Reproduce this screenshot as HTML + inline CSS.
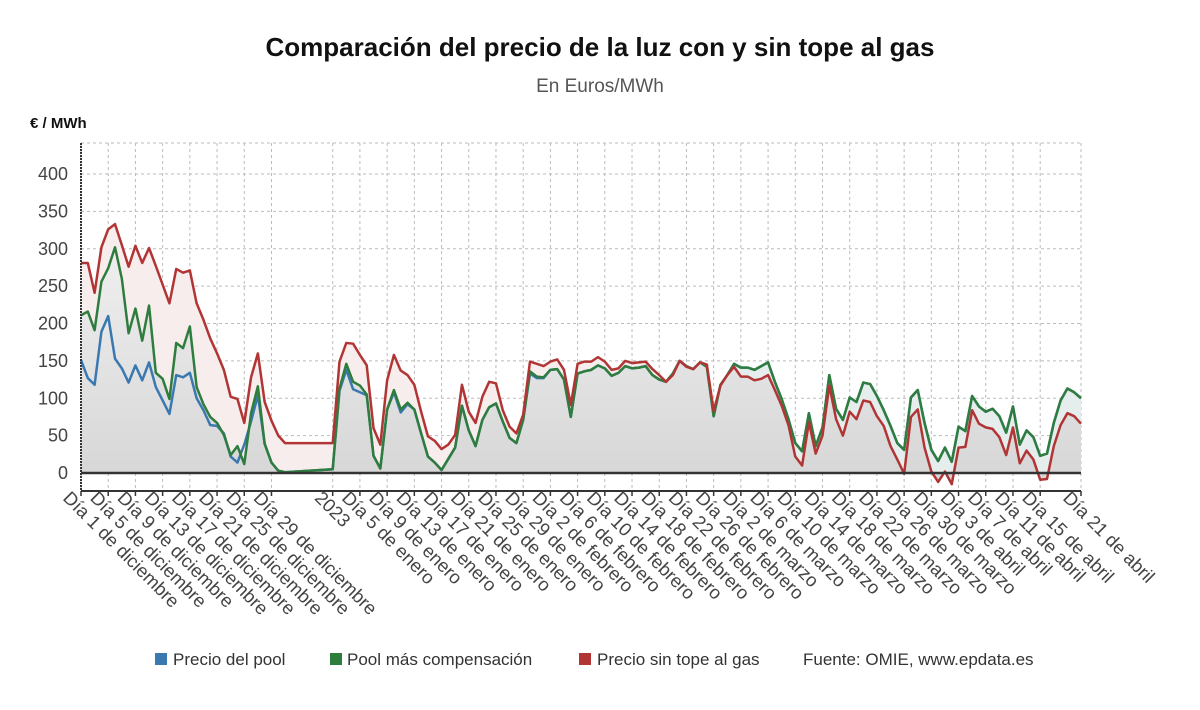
<!DOCTYPE html>
<html><head><meta charset="utf-8">
<style>
html,body{margin:0;padding:0;background:#fff;}
body{width:1200px;height:705px;overflow:hidden;font-family:"Liberation Sans","DejaVu Sans",sans-serif;}
</style></head>
<body>
<svg id="chart" width="1200" height="705" viewBox="0 0 1200 705" xmlns="http://www.w3.org/2000/svg">
<defs>
<linearGradient id="greyGrad" x1="0" y1="0" x2="0" y2="1">
<stop offset="0" stop-color="#efefef"/><stop offset="1" stop-color="#d6d6d6"/>
</linearGradient>
</defs>
<text x="600" y="56" text-anchor="middle" font-size="26" font-weight="bold" fill="#111">Comparación del precio de la luz con y sin tope al gas</text>
<text x="600" y="92" text-anchor="middle" font-size="19" fill="#555">En Euros/MWh</text>
<text x="30" y="128" font-size="15" font-weight="bold" fill="#111">€ / MWh</text>
<g id="grid"></g>
<g id="areas"></g>
<g id="lines"></g>
<g id="axes"></g>
<g id="legend">
<rect x="155" y="653" width="12" height="12" fill="#3a78b0"/>
<text x="173" y="665" font-size="17" fill="#333">Precio del pool</text>
<rect x="330" y="653" width="12" height="12" fill="#2e7d3e"/>
<text x="347" y="665" font-size="17" fill="#333">Pool más compensación</text>
<rect x="579" y="653" width="12" height="12" fill="#b23535"/>
<text x="597" y="665" font-size="17" fill="#333">Precio sin tope al gas</text>
<text x="803" y="665" font-size="17" fill="#333">Fuente: OMIE, www.epdata.es</text>
</g>
</svg>
<script>
// Index positions: Dec 1..31 -> 0..30, gap 31..36, Jan 1 -> 37 ... Apr 21 -> 147
const tickIdx = [0,4,8,12,16,20,24,28,37,41,45,49,53,57,61,65,69,73,77,81,85,89,93,97,101,105,109,113,117,121,125,129,133,137,141,147];
const tickLabels = ["Día 1 de diciembre","Día 5 de diciembre","Día 9 de diciembre","Día 13 de diciembre","Día 17 de diciembre","Día 21 de diciembre","Día 25 de diciembre","Día 29 de diciembre","2023","Día 5 de enero","Día 9 de enero","Día 13 de enero","Día 17 de enero","Día 21 de enero","Día 25 de enero","Día 29 de enero","Día 2 de febrero","Día 6 de febrero","Día 10 de febrero","Día 14 de febrero","Día 18 de febrero","Día 22 de febrero","Día 26 de febrero","Día 2 de marzo","Día 6 de marzo","Día 10 de marzo","Día 14 de marzo","Día 18 de marzo","Día 22 de marzo","Día 26 de marzo","Día 30 de marzo","Día 3 de abril","Día 7 de abril","Día 11 de abril","Día 15 de abril","Día 21 de abril"];
const yTicks = [0,50,100,150,200,250,300,350,400];
const N = null;
const redVals = [281,281,241,302,326,333,305,276,304,281,301,277,252,227,273,268,271,227,205,180,160,138,102,99,67,128,160,95,70,50,40,
 N,N,N,N,N,N,
 40,149,174,173,158,144,60,38,124,158,137,131,118,82,49,43,32,38,51,118,82,67,102,122,120,84,62,53,78,149,146,143,149,152,138,91,146,149,149,155,149,138,140,150,147,148,149,139,131,122,131,150,142,139,148,145,83,117,131,142,129,129,124,126,131,111,90,64,22,10,68,26,50,117,72,50,82,72,97,95,76,63,36,18,-1,75,85,34,2,-12,2,-15,34,35,84,66,61,59,48,24,61,13,30,18,-9,-8,36,64,80,76,66];
const greenVals = [211,216,191,256,274,302,260,187,220,177,224,134,126,99,174,167,196,115,92,75,67,51,24,36,12,80,116,39,14,3,1,
 N,N,N,N,N,N,
 5,113,146,122,117,105,23,6,85,111,85,94,85,53,22,14,4,19,34,90,57,36,71,88,93,69,47,40,71,136,129,128,138,139,125,75,133,136,138,144,140,130,134,143,140,141,143,131,125,122,133,150,143,139,148,142,76,118,131,146,141,141,138,143,148,122,99,72,40,29,80,36,61,131,86,71,101,95,121,119,103,84,63,40,31,101,111,67,31,16,34,15,62,56,103,89,82,86,76,54,89,38,57,48,23,26,67,97,113,108,100];
const blueVals = [151,127,118,189,210,153,140,121,144,124,148,115,97,79,131,128,134,100,84,64,63,53,22,14,38,69,104,39,14,3,1,
 N,N,N,N,N,N,
 5,110,138,112,108,104,23,6,85,108,81,92,85,53,22,14,4,19,34,90,57,36,71,88,93,69,47,40,71,133,127,127,138,139,125,75,133,136,138,144,140,130,134,143,140,141,143,131,125,122,133,150,143,139,148,142,76,118,131,146,141,141,138,143,148,122,99,72,40,29,80,36,61,131,86,71,101,95,121,119,103,84,63,40,31,101,111,67,31,16,34,15,62,56,103,89,82,86,76,54,89,38,57,48,23,26,67,97,113,108,100];

const X0=81, X1=1081, Y0=473, PX_PER=0.7475, LAST=147, TOP=143, BOT=491;
const xs = i => X0 + (X1-X0)*i/LAST;
const ys = v => Y0 - v*PX_PER;
const NS="http://www.w3.org/2000/svg";
function mk(tag, attrs, parent){const e=document.createElementNS(NS,tag);for(const k in attrs)e.setAttribute(k,attrs[k]);parent.appendChild(e);return e;}
const grid=document.getElementById('grid'), areas=document.getElementById('areas'), lines=document.getElementById('lines'), axes=document.getElementById('axes');

yTicks.forEach(v=>{
  const l=mk('line',{x1:X0,x2:X1,y1:ys(v),y2:ys(v),stroke:'#bbb','stroke-dasharray':'3,3'},grid);
  
  
  const t=mk('text',{x:68,y:ys(v)+6,'text-anchor':'end','font-size':18,fill:'#444'},axes);
  t.textContent=v;
  
  
});
{const l=mk('line',{x1:X0,x2:X1,y1:TOP,y2:TOP,stroke:'#bbb','stroke-dasharray':'3,3'},grid);

}
tickIdx.forEach((ix,k)=>{
  const x=xs(ix);
  const l=mk('line',{x1:x,x2:x,y1:TOP,y2:BOT,stroke:'#bbb','stroke-dasharray':'3,3'},grid);
  
  
  const tk=mk('line',{x1:x,x2:x,y1:BOT,y2:BOT+5,stroke:'#333','stroke-width':1.5},axes);
  
  
  const t=mk('text',{transform:`translate(${x-19},${BOT+8}) rotate(45)`,'font-size':18.5,fill:'#444'},axes);
  t.textContent=tickLabels[k];
  
  
});
{const l=mk('line',{x1:X1,x2:X1,y1:TOP,y2:BOT,stroke:'#bbb','stroke-dasharray':'3,3'},grid);

}

function pts(arr){const p=[];arr.forEach((v,i)=>{if(v!==null)p.push([xs(i),ys(v)]);});return p;}
function areaPath(arr){const p=pts(arr);let d='M'+p[0][0]+','+Y0;p.forEach(q=>d+=' L'+q[0]+','+q[1]);d+=' L'+p[p.length-1][0]+','+Y0+' Z';return d;}
function linePath(arr){const p=pts(arr);return 'M'+p.map(q=>q[0]+','+q[1]).join(' L');}
const minGR=redVals.map((v,i)=>v===null?null:Math.min(v,greenVals[i]));

const a1=mk('path',{d:areaPath(redVals),fill:'#f8eded'},areas);


const a2=mk('path',{d:areaPath(greenVals),fill:'#e5eeed'},areas);


const a4=mk('path',{d:areaPath(minGR),fill:'url(#greyGrad)'},areas);



const l1=mk('path',{d:linePath(blueVals),fill:'none',stroke:'#3a78b0','stroke-width':2.5,'stroke-linejoin':'round'},lines);


const l2=mk('path',{d:linePath(greenVals),fill:'none',stroke:'#2e7d3e','stroke-width':2.5,'stroke-linejoin':'round'},lines);


const l3=mk('path',{d:linePath(redVals),fill:'none',stroke:'#b23535','stroke-width':2.5,'stroke-linejoin':'round'},lines);



const z=mk('line',{x1:X0,x2:X1,y1:Y0,y2:Y0,stroke:'#333','stroke-width':2.5},axes);


const ya=mk('line',{x1:X0,x2:X0,y1:TOP,y2:BOT,stroke:'#333','stroke-width':2,'stroke-dasharray':'2,1'},axes);


const xa=mk('line',{x1:X0,x2:X1,y1:BOT,y2:BOT,stroke:'#333','stroke-width':2},axes);


</script>
</body></html>
